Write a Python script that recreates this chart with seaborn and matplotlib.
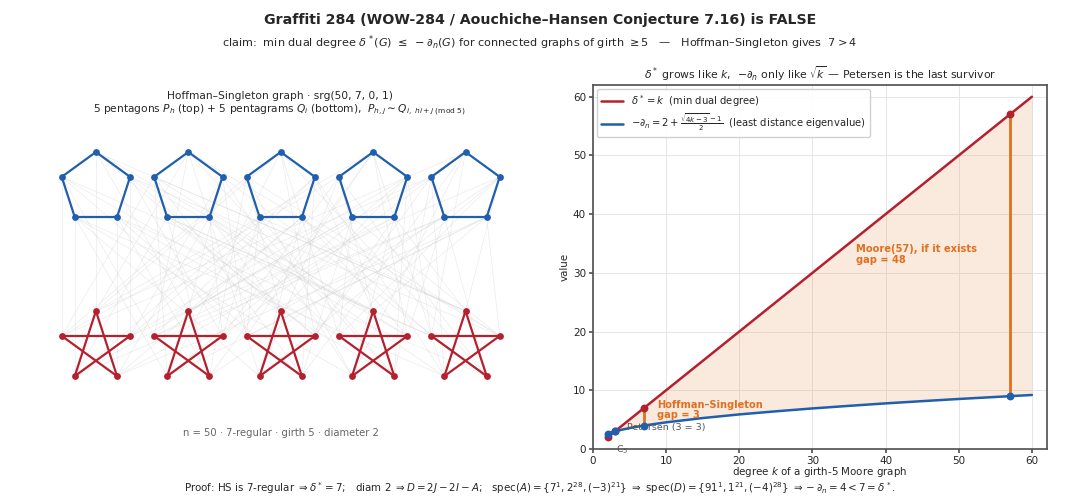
import numpy as np
import pandas as pd
import matplotlib.pyplot as plt
import seaborn as sns

sns.set_theme(style="ticks")
plt.rcParams['font.family'] = ['DejaVu Sans']

# -------------------------------
# data
# -------------------------------
k_curve = [2, 3, 4, 5, 7, 10, 15, 20, 25, 30, 35, 40, 45, 50, 57, 60]
dual_curve = [2, 3, 4, 5, 7, 10, 15, 20, 25, 30, 35, 40, 45, 50, 57, 60]
eig_curve = [2.62, 3.0, 3.30, 3.56, 4.0, 4.54, 5.27, 5.89, 6.42, 6.91, 7.35, 7.77, 8.15, 8.52, 9.0, 9.20]

# known / hypothetical Moore graphs of girth 5: C5, Petersen, Hoffman-Singleton, Moore(57)
moore_k = [2, 3, 7, 57]
moore_dual = [2, 3, 7, 57]
moore_eig = [2.62, 3.0, 4.0, 9.0]
gap_k = [7, 57]
gap_lo = [4.0, 9.0]
gap_hi = [7, 57]

n_groups = 5  # 5 pentagons + 5 pentagrams
group_gap = 2.57
row_gap = 4.42

RED = "#b5202e"
BLUE = "#1f5fad"
ORANGE = "#e07020"

fig = plt.figure(figsize=(10.8, 5), dpi=100)
fig.text(0.5, 0.96, "Graffiti 284 (WOW-284 / Aouchiche–Hansen Conjecture 7.16) is FALSE",
         ha="center", va="center", fontsize=10.2, fontweight="bold")
fig.text(0.5, 0.914, r"claim:  min dual degree $\delta^*(G)\ \leq\ -\partial_n(G)$ for connected graphs of girth $\geq 5$   —   Hoffman–Singleton gives  $7 > 4$",
         ha="center", va="center", fontsize=8.1)

# -------------------------------
# left: Hoffman-Singleton drawing
# -------------------------------
axl = fig.add_axes([0.037, 0.08, 0.444, 0.68])
ang = np.deg2rad(90 + 72 * np.arange(5))
vx, vy = np.cos(ang), np.sin(ang)

def P(h, j):
    return h * group_gap + vx[j], row_gap + vy[j]

def Q(i, j):
    return i * group_gap + vx[j], vy[j]

# cross edges P_{h,j} ~ Q_{i, hi+j mod 5}
for h in range(n_groups):
    for j in range(5):
        for i in range(n_groups):
            a, b = P(h, j), Q(i, (h * i + j) % 5)
            axl.plot([a[0], b[0]], [a[1], b[1]], color="#cfcfcf", lw=0.5, alpha=0.4, zorder=1)

for h in range(n_groups):
    for j in range(5):
        a, b = P(h, j), P(h, (j + 1) % 5)
        axl.plot([a[0], b[0]], [a[1], b[1]], color=BLUE, lw=1.6, zorder=2)
        a, b = Q(h, j), Q(h, (j + 2) % 5)
        axl.plot([a[0], b[0]], [a[1], b[1]], color=RED, lw=1.6, zorder=2)

px = [P(h, j)[0] for h in range(n_groups) for j in range(5)]
py = [P(h, j)[1] for h in range(n_groups) for j in range(5)]
qx = [Q(h, j)[0] for h in range(n_groups) for j in range(5)]
qy = [Q(h, j)[1] for h in range(n_groups) for j in range(5)]
axl.scatter(px, py, s=24, color=BLUE, zorder=3, linewidths=0)
axl.scatter(qx, qy, s=24, color=RED, zorder=3, linewidths=0)

axl.text(2 * group_gap, -2.4, "n = 50 · 7-regular · girth 5 · diameter 2",
         ha="center", va="center", fontsize=7.2, color="#666666")
axl.set_xlim(-1.556, 11.78)
axl.set_ylim(-3.14, 6.31)
axl.axis("off")
axl.set_title("Hoffman–Singleton graph · srg(50, 7, 0, 1)\n"
              r"5 pentagons $P_h$ (top) + 5 pentagrams $Q_i$ (bottom),  $P_{h,j} \sim Q_{i,\ hi+j\ (\mathrm{mod}\ 5)}$",
              fontsize=7.7, pad=5)

# -------------------------------
# right: delta* vs -d_n along Moore graphs
# -------------------------------
axr = fig.add_axes([0.549, 0.102, 0.420, 0.728])
curve = pd.DataFrame({"k": k_curve, "dual": dual_curve, "eig": eig_curve})

dual_arr = np.array(dual_curve, dtype=float)
eig_arr = np.array(eig_curve)
axr.fill_between(k_curve, eig_arr, dual_arr, where=dual_arr >= eig_arr, interpolate=True,
                 color=ORANGE, alpha=0.15, linewidth=0, zorder=1)
sns.lineplot(data=curve, x="k", y="dual", color=RED, lw=1.8, ax=axr, zorder=3,
             label=r"$\delta^* = k$  (min dual degree)")
sns.lineplot(data=curve, x="k", y="eig", color=BLUE, lw=1.8, ax=axr, zorder=3,
             label=r"$-\partial_n = 2 + \frac{\sqrt{4k-3}-1}{2}$  (least distance eigenvalue)")

for k, lo, hi in zip(gap_k, gap_lo, gap_hi):
    axr.plot([k, k], [lo, hi], color=ORANGE, lw=2, zorder=2)

axr.scatter(moore_k, moore_dual, s=32, color=RED, zorder=4, linewidths=0)
axr.scatter(moore_k, moore_eig, s=32, color=BLUE, zorder=5, linewidths=0)

axr.text(8.8, 6.6, "Hoffman–Singleton\ngap = 3", color=ORANGE, fontsize=7.1,
         fontweight="bold", ha="left", va="center", linespacing=1.05)
axr.text(36.0, 33.1, "Moore(57), if it exists\ngap = 48", color=ORANGE, fontsize=7.1,
         fontweight="bold", ha="left", va="center", linespacing=1.05)
axr.text(4.7, 3.7, "Petersen (3 = 3)", color="#555555", fontsize=6.8, ha="left", va="center")
axr.text(3.2, 0.9, r"C$_5$", color="#555555", fontsize=6.8, ha="left", va="top")

axr.set_xlim(0, 62)
axr.set_ylim(0, 62)
axr.grid(True, color="#e6e6e6", lw=0.7)
axr.set_axisbelow(True)
for s in axr.spines.values():
    s.set_color("#555555")
    s.set_visible(True)
axr.tick_params(labelsize=7.5, length=3, pad=2, color="#555555")
axr.set_xlabel(r"degree $k$ of a girth-5 Moore graph", fontsize=7.4, labelpad=-0.5)
axr.set_ylabel("value", fontsize=7.4, labelpad=2)
axr.set_title(r"$\delta^*$ grows like $k$,  $-\partial_n$ only like $\sqrt{k}$ — Petersen is the last survivor",
              fontsize=7.8, pad=4)
axr.legend(loc="upper left", fontsize=7.2, frameon=True, framealpha=0.9, edgecolor="#cccccc",
           borderaxespad=0.4, handlelength=2.2, labelspacing=0.3)

fig.text(0.5, 0.024,
         r"Proof: HS is 7-regular $\Rightarrow \delta^*=7$;   diam 2 $\Rightarrow D=2J-2I-A$;   spec$(A)=\{7^1,2^{28},(-3)^{21}\}$ $\Rightarrow$ spec$(D)=\{91^1,1^{21},(-4)^{28}\}$ $\Rightarrow -\partial_n=4<7=\delta^*$.",
         ha="center", va="center", fontsize=7.4)

fig.savefig("out.png", dpi=100)
